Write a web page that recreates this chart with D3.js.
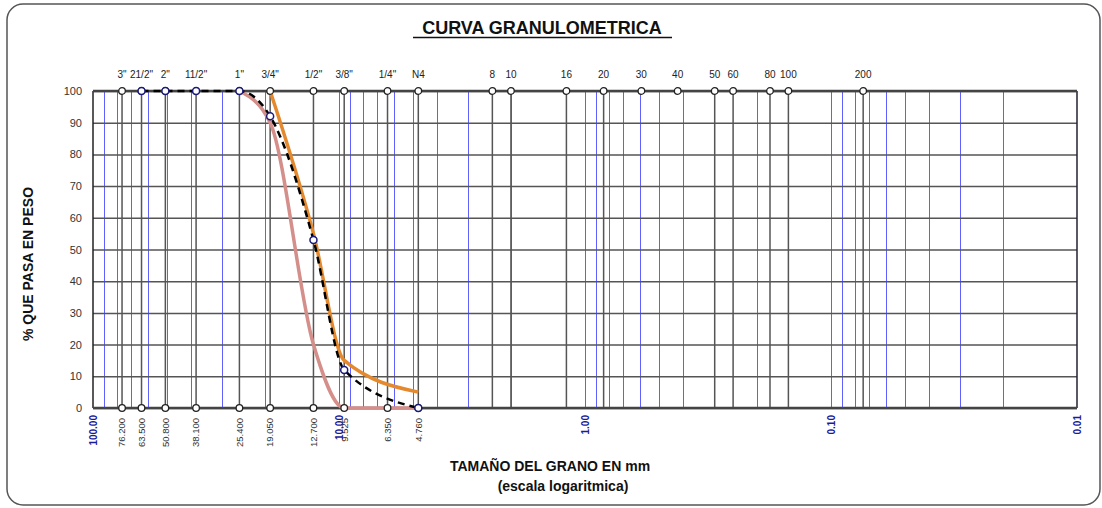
<!DOCTYPE html>
<meta charset="utf-8">
<head>
<style>
body { margin: 0; background: #fff; }
svg { font-family: "Liberation Sans", Arial, sans-serif; }
.grid line { stroke: #555; stroke-width: 1.5; }
.grid path { display: none; }
.ylab text { font-size: 11px; fill: #333; }
.ylab path, .ylab line { display: none; }
</style>
</head>
<body>
<script src="https://cdnjs.cloudflare.com/ajax/libs/d3/7.8.5/d3.min.js"></script>
<svg id="curva" width="1102" height="508"></svg>

<script>

// tamices (nombre y abertura en mm)
var sieveNames = ['3"', '21/2"', '2"', '11/2"', '1"', '3/4"', '1/2"', '3/8"', '1/4"', 'N4',
                  '8', '10', '16', '20', '30', '40', '50', '60', '80', '100', '200'];
var sieveMm = [76.2, 63.5, 50.8, 38.1, 25.4, 19.05, 12.7, 9.525, 6.35, 4.76,
               2.38, 2.0, 1.19, 0.84, 0.59, 0.42, 0.297, 0.25, 0.177, 0.149, 0.074];
var sieveNoLine = ['30', '40'];
var mmLabels = ["76.200", "63.500", "50.800", "38.100", "25.400", "19.050", "12.700", "9.525", "6.350", "4.760"];
var decades = [100, 10, 1, 0.1, 0.01];
var decadeLabels = ["100.00", "10.00", "1.00", "0.10", "0.01"];
var yTicks = [0, 10, 20, 30, 40, 50, 60, 70, 80, 90, 100];

// muestra
var muestraMm = [63.5, 50.8, 38.1, 25.4, 19.05, 12.7, 9.525, 4.76];
var muestraPasa = [100, 100, 100, 100, 92, 53, 12, 0];
// limite superior
var supMm = [19.05, 12.7, 9.525, 4.76];
var supPasa = [100, 55, 15, 5];
// limite inferior
var infMm = [25.4, 19.05, 12.7, 9.525, 4.76];
var infPasa = [100, 90, 20, 0, 0];

var svg = d3.select("#curva"),
    margin = {top: 91, right: 25, bottom: 100, left: 93},
    width = +svg.attr("width") - margin.left - margin.right,
    height = +svg.attr("height") - margin.top - margin.bottom;

// marco redondeado
svg.append("rect")
    .attr("x", 7).attr("y", 4)
    .attr("width", 1093).attr("height", 501)
    .attr("rx", 16)
    .attr("fill", "none")
    .attr("stroke", "#555")
    .attr("stroke-width", 1.5);

svg.append("text")
    .attr("x", 542).attr("y", 34)
    .attr("text-anchor", "middle")
    .style("font-size", "18px")
    .style("font-weight", "bold")
    .attr("fill", "#111")
    .text("CURVA GRANULOMETRICA");
svg.append("line")
    .attr("x1", 413).attr("x2", 672).attr("y1", 37.5).attr("y2", 37.5)
    .attr("stroke", "#111").attr("stroke-width", 1.5);

var g = svg.append("g").attr("transform", "translate(" + margin.left + "," + margin.top + ")");

var x = d3.scaleLog().domain([100, 0.01]).range([0, width]);
var y = d3.scaleLinear().domain([0, 100]).range([height, 0]);

// lineas menores azules (escala log)
var minor = [];
decades.slice(0, 4).forEach(function(d) {
  for (var k = 2; k <= 9; k++) minor.push(d * k / 10);
});
minor = minor.concat(decades.slice(1, 4));

g.selectAll(".minor")
  .data(minor)
  .enter().append("line")
    .attr("class", "minor")
    .attr("x1", function(d) { return Math.round(x(d)) + 0.5; })
    .attr("x2", function(d) { return Math.round(x(d)) + 0.5; })
    .attr("y1", 0).attr("y2", height)
    .attr("stroke", "#6060ff")
    .attr("stroke-width", 1);

// rejilla horizontal
g.append("g")
    .attr("class", "grid")
    .call(d3.axisLeft(y).tickValues(yTicks).tickSize(-width).tickFormat(""));

g.append("g")
    .attr("class", "ylab")
    .attr("transform", "translate(-8,0)")
    .call(d3.axisLeft(y).tickValues(yTicks).tickSize(0).tickPadding(3));

// lineas de tamices
var sieves = sieveNames.map(function(n, i) { return {name: n, mm: sieveMm[i], i: i}; });

g.selectAll(".sieve")
  .data(sieves.filter(function(d) { return sieveNoLine.indexOf(d.name) < 0; }))
  .enter().append("line")
    .attr("class", "sieve")
    .attr("x1", function(d) { return x(d.mm); })
    .attr("x2", function(d) { return x(d.mm); })
    .attr("y1", 0).attr("y2", height)
    .attr("stroke", "#555")
    .attr("stroke-width", 1.5);

// marco del grafico
g.append("line").attr("x1", 0).attr("x2", 0).attr("y1", 0).attr("y2", height)
    .attr("stroke", "#222").attr("stroke-width", 1.5);
g.append("line").attr("x1", width).attr("x2", width).attr("y1", 0).attr("y2", height)
    .attr("stroke", "#223").attr("stroke-width", 1.5);
g.append("line").attr("x1", 0).attr("x2", width).attr("y1", 0).attr("y2", 0)
    .attr("stroke", "#444").attr("stroke-width", 2.5);
g.append("line").attr("x1", 0).attr("x2", width).attr("y1", height).attr("y2", height)
    .attr("stroke", "#444").attr("stroke-width", 2.5);

// curvas
var line = d3.line()
    .x(function(d) { return x(d[0]); })
    .y(function(d) { return y(d[1]); })
    .curve(d3.curveMonotoneX);

function pairs(a, b) { return a.map(function(v, i) { return [v, b[i]]; }); }

g.append("path")
    .datum(pairs(infMm, infPasa))
    .attr("fill", "none")
    .attr("stroke", "#d48f8a")
    .attr("stroke-width", 3.5)
    .attr("d", line);

g.append("path")
    .datum(pairs(supMm, supPasa))
    .attr("fill", "none")
    .attr("stroke", "#e5892f")
    .attr("stroke-width", 3.5)
    .attr("d", line);

g.append("path")
    .datum(pairs(muestraMm, muestraPasa))
    .attr("fill", "none")
    .attr("stroke", "#000")
    .attr("stroke-width", 2.5)
    .attr("stroke-dasharray", "7,5")
    .attr("d", line);

// circulos de tamices
g.selectAll(".ctop")
  .data(sieves)
  .enter().append("circle")
    .attr("cx", function(d) { return x(d.mm); })
    .attr("cy", 0)
    .attr("r", 3.3)
    .attr("fill", "#fff")
    .attr("stroke", "#222")
    .attr("stroke-width", 1.3);

g.selectAll(".cbot")
  .data(sieves.slice(0, mmLabels.length))
  .enter().append("circle")
    .attr("cx", function(d) { return x(d.mm); })
    .attr("cy", height)
    .attr("r", 3.3)
    .attr("fill", "#fff")
    .attr("stroke", "#222")
    .attr("stroke-width", 1.3);

// puntos de la muestra
g.selectAll(".pm")
  .data(pairs(muestraMm, muestraPasa))
  .enter().append("circle")
    .attr("cx", function(d) { return x(d[0]); })
    .attr("cy", function(d) { return y(d[1]); })
    .attr("r", 3.5)
    .attr("fill", "#fff")
    .attr("stroke", "#1a1a7a")
    .attr("stroke-width", 1.5);

// etiquetas superiores
g.selectAll(".tlab")
  .data(sieves)
  .enter().append("text")
    .attr("x", function(d) { return x(d.mm); })
    .attr("y", -13)
    .attr("text-anchor", "middle")
    .style("font-size", "10px")
    .attr("fill", "#222")
    .text(function(d) { return d.name; });

// etiquetas inferiores (mm)
g.selectAll(".blab")
  .data(sieves.slice(0, mmLabels.length))
  .enter().append("text")
    .attr("transform", function(d) { return "translate(" + x(d.mm) + "," + (height + 10) + ") rotate(-90)"; })
    .attr("dy", "0.35em")
    .attr("text-anchor", "end")
    .style("font-size", "9.5px")
    .attr("fill", "#333")
    .text(function(d, i) { return mmLabels[i]; });

g.selectAll(".dlab")
  .data(decades)
  .enter().append("text")
    .attr("transform", function(d) { return "translate(" + x(d) + "," + (height + 7) + ") rotate(-90)"; })
    .attr("dy", "0.35em")
    .attr("text-anchor", "end")
    .style("font-size", "10px")
    .style("font-weight", "bold")
    .attr("fill", "#1c1c9a")
    .text(function(d, i) { return decadeLabels[i]; });

// titulos de ejes
svg.append("text")
    .attr("transform", "translate(33,264) rotate(-90)")
    .attr("text-anchor", "middle")
    .style("font-size", "14px")
    .style("font-weight", "bold")
    .attr("fill", "#111")
    .text("% QUE PASA EN PESO");

svg.append("text")
    .attr("x", 550).attr("y", 471)
    .attr("text-anchor", "middle")
    .style("font-size", "14px")
    .style("font-weight", "bold")
    .attr("fill", "#111")
    .text("TAMAÑO DEL GRANO EN mm");

svg.append("text")
    .attr("x", 563).attr("y", 491)
    .attr("text-anchor", "middle")
    .style("font-size", "14px")
    .style("font-weight", "bold")
    .attr("fill", "#111")
    .text("(escala logaritmica)");

</script>
</body>
</html>
